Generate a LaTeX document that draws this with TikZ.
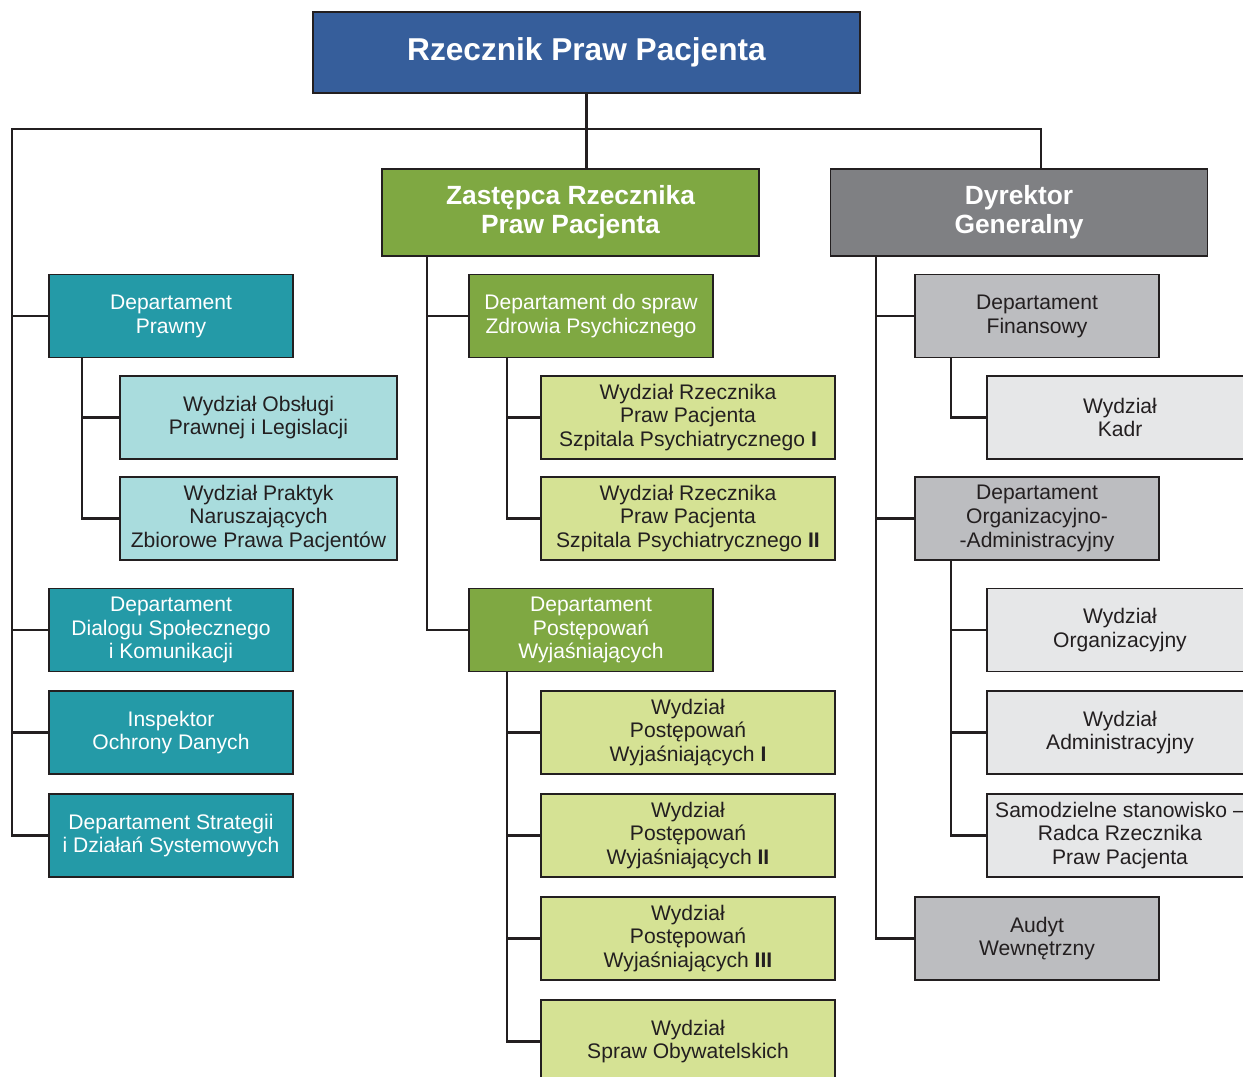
\documentclass[tikz,border=0pt]{standalone}
\usepackage{fontspec}
\setmainfont{Liberation Sans}
\usetikzlibrary{positioning}

\definecolor{rppblue}{HTML}{365E9B}
\definecolor{zgreen}{HTML}{7FA842}
\definecolor{lgreen}{HTML}{D5E294}
\definecolor{dteal}{HTML}{249AA7}
\definecolor{lteal}{HTML}{A9DCDD}
\definecolor{dgray}{HTML}{7F8083}
\definecolor{mgray}{HTML}{BCBDC0}
\definecolor{lgray}{HTML}{E6E7E8}
\definecolor{ink}{HTML}{231F20}

\begin{document}
\begin{tikzpicture}[x=0.02cm,y=-0.02cm]
\tikzstyle{box} = [rectangle, minimum height=1.66cm, align=center, inner sep=2pt, draw=ink, line width=1pt, font=\fontsize{12}{13.6}\selectfont]
\tikzstyle{head} = [box, fill=rppblue, text=white, minimum width=10.94cm, minimum height=1.62cm, font=\fontsize{18}{20}\selectfont\bfseries]
\tikzstyle{deputy} = [box, fill=zgreen, text=white, minimum width=7.54cm, minimum height=1.74cm, font=\fontsize{15}{16.5}\selectfont\bfseries]
\tikzstyle{director} = [deputy, fill=dgray]
\tikzstyle{dept} = [box, fill=dteal, text=white, minimum width=4.88cm]
\tikzstyle{subdept} = [box, fill=lteal, text=ink, minimum width=5.54cm]
\tikzstyle{zdept} = [box, fill=zgreen, text=white, minimum width=4.88cm]
\tikzstyle{zsub} = [box, fill=lgreen, text=ink, minimum width=5.88cm]
\tikzstyle{gdept} = [box, fill=mgray, text=ink, minimum width=4.88cm]
\tikzstyle{gsub} = [box, fill=lgray, text=ink, minimum width=5.32cm]
\tikzstyle{link} = [draw=ink, line width=1.2pt]

\useasboundingbox (0,0) rectangle (1243,1076);

\node [head] (rpp) at (586.5,52.5) {Rzecznik Praw Pacjenta};
\node [deputy] (zrpp) at (570.5,212.5) {Zastępca Rzecznika\\Praw Pacjenta};
\node [director] (dg) at (1019,212.5) {Dyrektor\\Generalny};

% lewa kolumna
\node [dept] (dp) at (171,316) {Departament\\Prawny};
\node [subdept] (wol) at (258.5,417.5) {Wydział Obsługi\\Prawnej i Legislacji};
\node [subdept] (wpn) at (258.5,518.5) {Wydział Praktyk\\Naruszających\\Zbiorowe Prawa Pacjentów};
\node [dept] (ddsk) at (171,630) {Departament\\Dialogu Społecznego\\i Komunikacji};
\node [dept] (iod) at (171,732.5) {Inspektor\\Ochrony Danych};
\node [dept] (dsds) at (171,835.5) {Departament Strategii\\i Działań Systemowych};

% zastepca
\node [zdept] (dzp) at (591,316) {Departament do spraw\\Zdrowia Psychicznego};
\node [zsub] (wsp1) at (688,417.5) {Wydział Rzecznika\\Praw Pacjenta\\Szpitala Psychiatrycznego \textbf{I}};
\node [zsub] (wsp2) at (688,518.5) {Wydział Rzecznika\\Praw Pacjenta\\Szpitala Psychiatrycznego \textbf{II}};
\node [zdept] (dpw) at (591,630) {Departament\\Postępowań\\Wyjaśniających};
\node [zsub] (wpw1) at (688,732.5) {Wydział\\Postępowań\\Wyjaśniających \textbf{I}};
\node [zsub] (wpw2) at (688,835.5) {Wydział\\Postępowań\\Wyjaśniających \textbf{II}};
\node [zsub] (wpw3) at (688,938.5) {Wydział\\Postępowań\\Wyjaśniających \textbf{III}};
\node [zsub] (wso) at (688,1041.5) {Wydział\\Spraw Obywatelskich};

% dyrektor
\node [gdept] (df) at (1037,316) {Departament\\Finansowy};
\node [gsub] (wk) at (1120,417.5) {Wydział\\Kadr};
\node [gdept] (doa) at (1037,518.5) {Departament\\Organizacyjno-\\-Administracyjny};
\node [gsub] (wo) at (1120,630) {Wydział\\Organizacyjny};
\node [gsub] (wa) at (1120,732.5) {Wydział\\Administracyjny};
\node [gsub] (srr) at (1120,835.5) {Samodzielne stanowisko –\\Radca Rzecznika\\Praw Pacjenta};
\node [gdept] (aw) at (1037,938.5) {Audyt\\Wewnętrzny};

\coordinate (tl) at (12,129);
\coordinate (tr) at (1041,129);
\coordinate (tp) at (82,357);
\coordinate (tz) at (427,256);
\coordinate (tzp) at (507,357);
\coordinate (tzw) at (507,671);
\coordinate (td) at (876,256);
\coordinate (tdf) at (951,357);
\coordinate (tdo) at (951,560);

\draw [link] (rpp.south) -- (rpp.south |- zrpp.north);
\draw [link] (dg.north -| tr) -- (tr) -- (tl) |- (dsds.west);
\foreach \n in {dp,ddsk,iod} \draw [link] (tl |- \n.west) -- (\n.west);
\draw [link] (tp) |- (wpn.west);
\draw [link] (tp |- wol.west) -- (wol.west);

\draw [link] (tz) |- (dpw.west);
\draw [link] (tz |- dzp.west) -- (dzp.west);
\draw [link] (tzp) |- (wsp2.west);
\draw [link] (tzp |- wsp1.west) -- (wsp1.west);
\draw [link] (tzw) |- (wso.west);
\foreach \n in {wpw1,wpw2,wpw3} \draw [link] (tzw |- \n.west) -- (\n.west);

\draw [link] (td) |- (aw.west);
\foreach \n in {df,doa} \draw [link] (td |- \n.west) -- (\n.west);
\draw [link] (tdf) |- (wk.west);
\draw [link] (tdo) |- (srr.west);
\foreach \n in {wo,wa} \draw [link] (tdo |- \n.west) -- (\n.west);
\end{tikzpicture}
\end{document}
